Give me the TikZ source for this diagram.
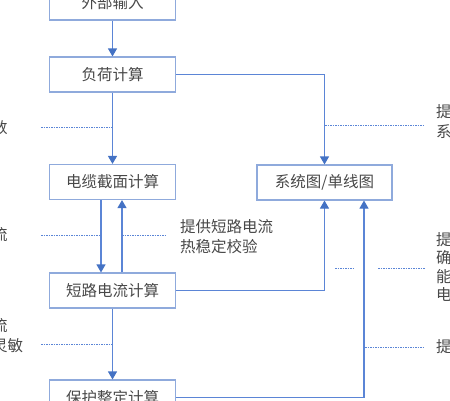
\documentclass[tikz,border=0pt]{standalone}
\usepackage{fontspec}
\newfontfamily\cjk{Noto Sans CJK SC}
\usetikzlibrary{arrows.meta}
\definecolor{boxline}{RGB}{143,170,220}
\definecolor{flowline}{RGB}{91,133,214}
\definecolor{arrowfill}{RGB}{68,114,196}
\definecolor{txtgray}{RGB}{72,72,72}

\begin{document}
\begin{tikzpicture}[x=1pt,y=-1pt,
  calcbox/.style={draw=boxline,line width=1.1pt,minimum width=126pt,minimum height=35pt,inner sep=0pt,font=\cjk\fontsize{15.5}{20}\selectfont,text=txtgray},
  flow/.style={draw=flowline,line width=1.1pt,-{Triangle[width=9pt,length=8pt,color=arrowfill]}},
  note/.style={draw=flowline,line width=0.6pt,dash pattern=on 1.5pt off 1pt},
  memo/.style={font=\cjk\fontsize{15.5}{20}\selectfont,text=txtgray,inner sep=0pt,align=left}]
\useasboundingbox (0,0) rectangle (450,400);
\clip (0,0) rectangle (450,400);
% calculation steps
\node[calcbox] (input) at (112.5,2.5) {外部输入};
\node[calcbox] (load) at (112.5,74.5) {负荷计算};
\node[calcbox] (cable) at (112.5,182) {电缆截面计算};
\node[calcbox,minimum width=135pt] (sld) at (324.5,182.5) {系统图/单线图};
\node[calcbox] (short) at (112.5,290.5) {短路电流计算};
\node[calcbox] (prot) at (112.5,397.5) {保护整定计算};
% flow
\draw[flow] (input) -- (load);
\draw[flow] (load) -- (cable);
\draw[flow] (load.east) -| (sld.north);
\draw[flow] ([xshift=-11.5pt]cable.south) -- ([xshift=-11.5pt]short.north);
\draw[flow] ([xshift=9.5pt]short.north) -- ([xshift=9.5pt]cable.south);
\draw[flow] (short.east) -| (sld.south);
\draw[flow] (prot.east) -| ([xshift=39.5pt]sld.south);
\draw[flow] (short) -- (prot);
% notes
\node[memo,anchor=west] (numnote) at (-8,128) {数};
\node[memo,anchor=west] (flownote) at (-8,235) {流};
\node[memo,anchor=west] (sensnote) at (-8,336) {流\\灵敏};
\node[memo,anchor=west] (thermnote) at (180,237) {提供短路电流\\热稳定校验};
\node[memo,anchor=west] (sysnote) at (436,122) {提\\系};
\node[memo,anchor=west,font=\cjk\fontsize{15.5}{18.5}\selectfont] (capnote) at (436,267) {提\\确\\能\\电};
\node[memo,anchor=west] (protnote) at (436,347) {提};
\draw[note] (41,127) -- (112.5,127);
\draw[note] (41,235) -- (101,235);
\draw[note] (122,235) -- (167,235);
\draw[note] (41,344) -- (112.5,344);
\draw[note] (325,125) -- (425,125);
\draw[note] (335,268) -- (355,268);
\draw[note] (378,268) -- (425,268);
\draw[note] (365,347) -- (425,347);
\end{tikzpicture}
\end{document}
